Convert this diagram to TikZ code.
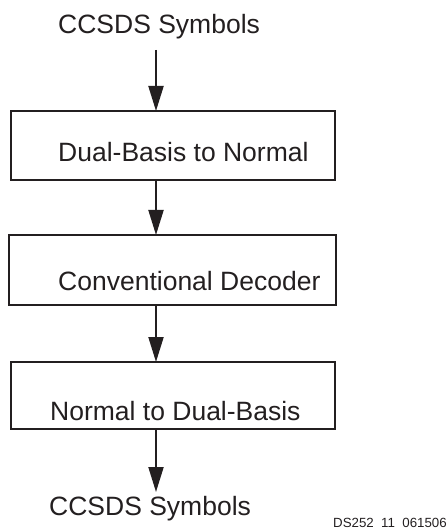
\documentclass[tikz,border=0pt]{standalone}
\usepackage{fontspec}
\setmainfont{Liberation Sans}
\usetikzlibrary{arrows.meta}
\definecolor{ds_ink}{RGB}{35, 31, 32}
\tikzstyle{blk}=[rectangle,draw=ds_ink,line width=2bp,inner sep=0pt,outer sep=0pt]
\tikzstyle{txt}=[anchor=base west,inner sep=0pt,text=ds_ink,font=\fontsize{26.5bp}{30bp}\selectfont]
\tikzstyle{flow}=[draw=ds_ink,line width=2bp,-{Triangle[length=25bp,width=15bp]}]

\begin{document}
\begin{tikzpicture}[x=1bp,y=-1bp]
    \useasboundingbox (0,0) rectangle (448,529);
    \node [style=blk,minimum width=323.5bp,minimum height=69bp] (dual) at (173.25,145.5) {};
    \node [style=blk,minimum width=326.5bp,minimum height=70bp] (conv) at (172.25,270) {};
    \node [style=blk,minimum width=323.5bp,minimum height=67bp] (norm) at (173.25,395.5) {};
    \node [style=txt] (in) at (58,34) {CCSDS Symbols};
    \node [style=txt] (dualt) at (58,162) {Dual-Basis to Normal};
    \node [style=txt] (convt) at (58,290) {Conventional Decoder};
    \node [style=txt] (normt) at (50,420) {Normal to Dual-Basis};
    \node [style=txt] (out) at (49,515) {CCSDS Symbols};
    \node [anchor=base east,inner sep=0pt,text=ds_ink,font=\fontsize{13.3bp}{15bp}\selectfont] (tag) at (447,527.5) {DS252\ \ 11\ \ 061506};
    \coordinate (src) at (156,50);
    \coordinate (snk) at (156,492);
    \draw [style=flow] (src) -- (src |- dual.north);
    \draw [style=flow] (dual.south -| src) -- (conv.north -| src);
    \draw [style=flow] (conv.south -| src) -- (norm.north -| src);
    \draw [style=flow] (norm.south -| src) -- (snk);
  \end{tikzpicture}
\end{document}
